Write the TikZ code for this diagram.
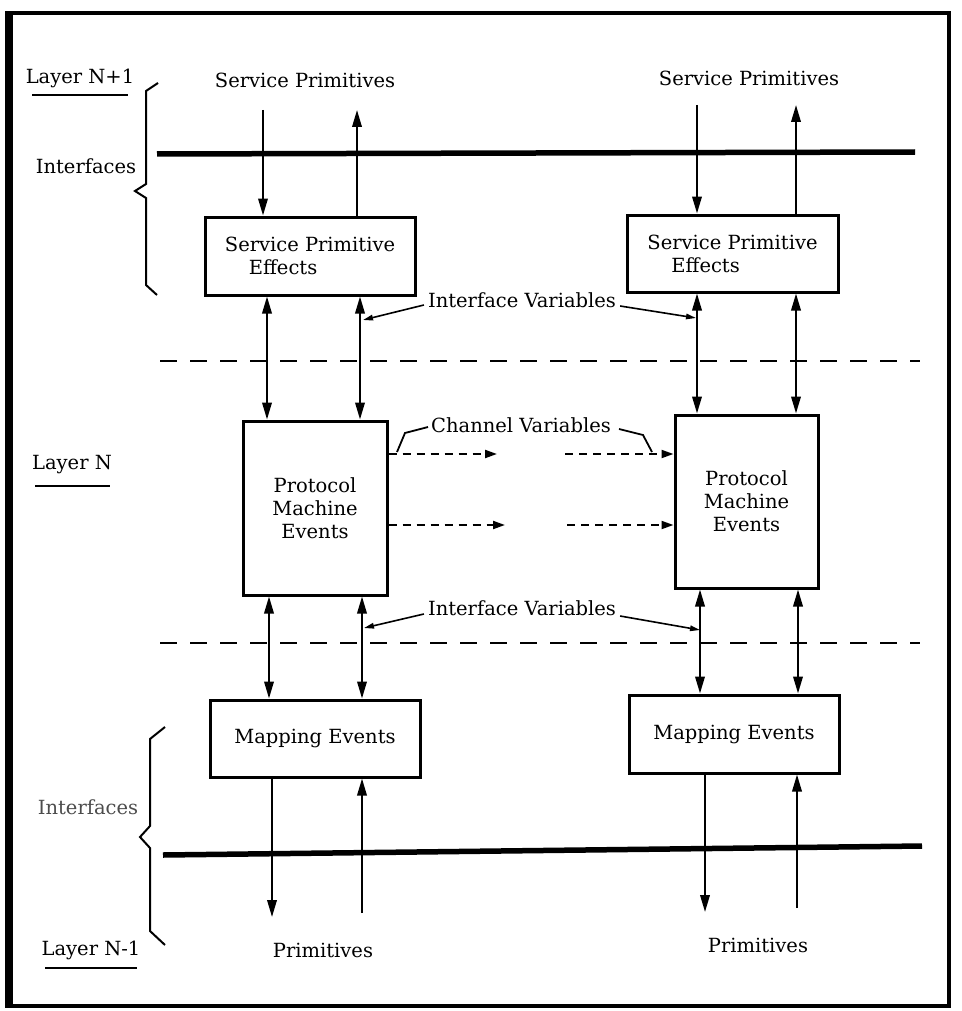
\documentclass[tikz,border=0pt]{standalone}
\usepackage{fontspec}
\setmainfont{DejaVu Serif}
\usetikzlibrary{arrows.meta}
\begin{document}
\begin{tikzpicture}[x=1pt,y=-1pt,
  every node/.style={font=\fontsize{19.5}{23}\selectfont, inner sep=0pt},
  box/.style={draw, line width=3pt, inner sep=0pt, align=center},
  arr/.style={line width=2pt, -{Triangle[length=17pt,width=9.5pt]}},
  biarr/.style={line width=2pt, {Triangle[length=17pt,width=9.5pt]}-{Triangle[length=17pt,width=9.5pt]}},
  ifline/.style={line width=5.5pt},
  dashline/.style={line width=2pt, dash pattern=on 17pt off 13pt},
  chan/.style={line width=2pt, dash pattern=on 8pt off 6pt, -{Triangle[length=12pt,width=8pt]}},
  leader/.style={line width=1.6pt, -{Triangle[length=10pt,width=5.5pt]}},
  kink/.style={line width=1.8pt},
  brace/.style={line width=2pt},
  uline/.style={line width=1.8pt}]
\useasboundingbox (0,0) rectangle (961,1011);
% frame
\draw[line width=4pt] (11,13.5) rectangle (949,1006);
\draw[line width=8pt] (9,11.5) -- (9,1008);

% interface lines
\draw[ifline] (157,154) -- (915,152);
\draw[ifline] (163,855) -- (922,846);
\draw[dashline] (160,361) -- (920,361);
\draw[dashline] (160,643) -- (920,643);

% left labels
\node (lnp1) at (80,78) {Layer N+1};
\draw[uline] (32,95) -- (128,95);
\node (if1) at (86,166) {Interfaces};
\node (ln) at (72,465) {Layer N};
\draw[uline] (35,486) -- (110,486);
\node[text=black!70] (if2) at (88,807) {Interfaces};
\node (lnm1) at (91,950) {Layer N-1};
\draw[uline] (45,968) -- (137,968);

% braces
\draw[brace] (158,83) -- (146,91) -- (146,184) -- (135,191) -- (146,198) -- (146,285) -- (157,295);
\draw[brace] (165,727) -- (150,739) -- (150,826) -- (140,837) -- (150,848) -- (150,931) -- (165,945);

% top labels
\node (spTL) at (305,80) {Service Primitives};
\node (spTR) at (749,78) {Service Primitives};

% boxes
\node[box, minimum width=210pt, minimum height=78pt, align=left] (spL) at (310,256) {Service Primitive\\\hspace*{24pt}Effects};
\node[box, minimum width=211pt, minimum height=77pt, align=left] (spR) at (732.5,253.5) {Service Primitive\\\hspace*{24pt}Effects};
\node[box, minimum width=144pt, minimum height=174pt] (pmL) at (315,508) {Protocol\\Machine\\Events};
\node[box, minimum width=143pt, minimum height=173pt] (pmR) at (746.5,501.5) {Protocol\\Machine\\Events};
\node[box, minimum width=210pt, minimum height=77pt] (meL) at (315,738.5) {Mapping Events};
\node[box, minimum width=210pt, minimum height=78pt] (meR) at (734,734) {Mapping Events};

% free ends
\coordinate (tL1) at (263,110);
\coordinate (tL2) at (357,110);
\coordinate (tR1) at (697,105);
\coordinate (tR2) at (796,105);
\coordinate (bL1) at (272,917);
\coordinate (bL2) at (362,913);
\coordinate (bR1) at (705,912);
\coordinate (bR2) at (797,908);

% service primitive arrows
\draw[arr] (tL1) -- (tL1 |- spL.north);
\draw[arr] (tL2 |- spL.north) -- (tL2);
\draw[arr] (tR1) -- (tR1 |- spR.north);
\draw[arr] (tR2 |- spR.north) -- (tR2);

% SPE <-> PME
\draw[biarr] (267,0 |- spL.south) -- (267,0 |- pmL.north);
\draw[biarr] (360,0 |- spL.south) -- (360,0 |- pmL.north);
\draw[biarr] (697,0 |- spR.south) -- (697,0 |- pmR.north);
\draw[biarr] (796,0 |- spR.south) -- (796,0 |- pmR.north);

% PME <-> ME
\draw[biarr] (269,0 |- pmL.south) -- (269,0 |- meL.north);
\draw[biarr] (362,0 |- pmL.south) -- (362,0 |- meL.north);
\draw[biarr] (700,0 |- pmR.south) -- (700,0 |- meR.north);
\draw[biarr] (798,0 |- pmR.south) -- (798,0 |- meR.north);

% ME to primitives
\draw[arr] (bL1 |- meL.south) -- (bL1);
\draw[arr] (bL2) -- (bL2 |- meL.south);
\draw[arr] (bR1 |- meR.south) -- (bR1);
\draw[arr] (bR2) -- (bR2 |- meR.south);

% bottom labels
\node (prL) at (323,950) {Primitives};
\node (prR) at (758,945) {Primitives};

% interface variables
\node (iv1) at (522,300) {Interface Variables};
\draw[leader] (iv1.west) ++(-4,5) -- (363,320);
\draw[leader] (iv1.east) ++(4,6) -- (696,318);
\node (iv2) at (522,608) {Interface Variables};
\draw[leader] (iv2.west) ++(-4,6) -- (364,628);
\draw[leader] (iv2.east) ++(4,8) -- (700,630);

% channel variables
\node (cv) at (521,425) {Channel Variables};
\coordinate (c1a) at (497,454);
\coordinate (c1b) at (565,454);
\coordinate (c2a) at (505,525);
\coordinate (c2b) at (567,525);
\draw[chan] (c1a -| pmL.east) -- (c1a);
\draw[chan] (c1b) -- (c1b -| pmR.west);
\draw[chan] (c2a -| pmL.east) -- (c2a);
\draw[chan] (c2b) -- (c2b -| pmR.west);
\draw[kink] (cv.west) ++(-3,2) -- (405,433) -- (397,452);
\draw[kink] (cv.east) ++(8,4) -- (643,435) -- (652,452);
\end{tikzpicture}
\end{document}
